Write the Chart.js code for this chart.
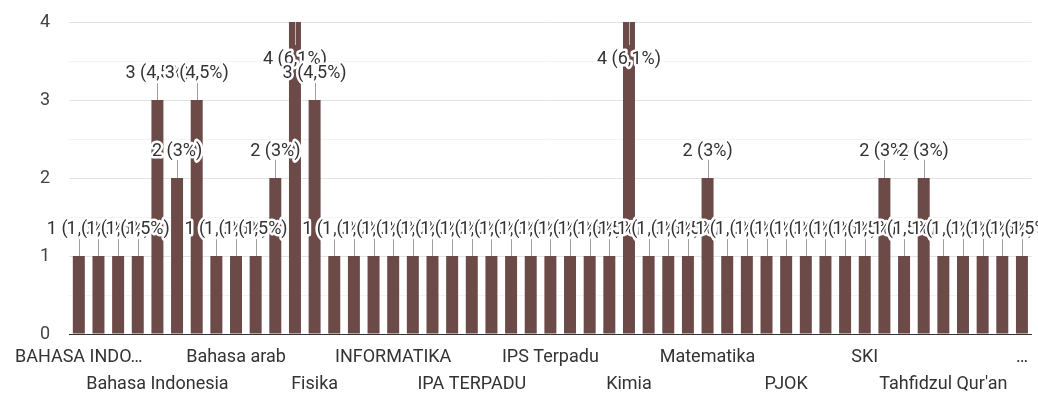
<!DOCTYPE html>
<html>
<head>
<meta charset="utf-8">
<script src="https://cdn.jsdelivr.net/npm/chart.js@4.4.0/dist/chart.umd.min.js"></script>
<style>
  body { margin: 0; background: #fff; }
  canvas { display: block; }
</style>
</head>
<body>
<canvas id="mapel" width="1038" height="394"></canvas>
<script>
// subjects, sorted the way the form summary sorts them
const categories = [
  'BAHASA INDONESIA', 'BAHASA INGGRIS', 'Bahasa Arab', 'Bahasa INGGRIS',
  'Bahasa Indonesia', 'Bahasa Inggris', 'Bahasa Jawa', 'Bahasa Sunda',
  'Bahasa arab', 'Bahasa inggris', 'Biologi', 'Ekonomi',
  'Fisika', 'Geografi', 'Hadits', 'IBADAH',
  'INFORMATIKA', 'IPA', 'IPA BIOLOGI', 'IPA FISIKA',
  'IPA TERPADU', 'IPA Terpadu', 'IPS', 'IPS TERPADU',
  'IPS Terpadu', 'Informatika', 'Ipa', 'Ips',
  'Kimia', 'MATEMATIKA', 'MTK', 'Mapel IPA',
  'Matematika', 'Matematika Wajib', 'Mtk', 'PAI',
  'PJOK', 'PKN', 'PPKN', 'Prakarya',
  'SKI', 'Sejarah', 'Sejarah Indonesia', 'Seni Budaya',
  "Tahfidzul Qur'an", 'Tahsin', 'Tematik', 'Tidak ada',
  'semua pelajaran'
];
const counts = [
  1, 1, 1, 1, 3, 2, 3, 1,
  1, 1, 2, 4, 3, 1, 1, 1,
  1, 1, 1, 1, 1, 1, 1, 1,
  1, 1, 1, 1, 4, 1, 1, 1,
  2, 1, 1, 1, 1, 1, 1, 1,
  1, 2, 1, 2, 1, 1, 1, 1,
  1
];
const yTicks = [0, 1, 2, 3, 4];

const total = counts.reduce((a, b) => a + b, 0);
const FONT = '18px Roboto';

function pctText(v) {
  const p = (v / total * 100).toFixed(1).replace('.', ',').replace(/,0$/, '');
  return v + ' (' + p + '%)';
}

// leader lines + "n (p%)" labels over each bar
const valueLabels = {
  id: 'valueLabels',
  afterDatasetsDraw(chart) {
    const ctx = chart.ctx;
    const area = chart.chartArea;
    const bars = chart.getDatasetMeta(0).data;
    const spots = bars.map((bar, i) => {
      const inside = bar.y - 40 < area.top;
      return {
        x: bar.x,
        top: bar.y,
        lineEnd: inside ? bar.y + 23 : bar.y - 18,
        textY: inside ? bar.y + 37 : bar.y - 27,
        inside,
        text: pctText(counts[i])
      };
    });
    ctx.save();
    ctx.lineWidth = 1;
    spots.forEach(s => {
      ctx.strokeStyle = s.inside ? '#b8b8b8' : '#9e9e9e';
      ctx.beginPath();
      ctx.moveTo(Math.round(s.x) + 0.5, s.top);
      ctx.lineTo(Math.round(s.x) + 0.5, s.lineEnd);
      ctx.stroke();
    });
    ctx.font = FONT;
    ctx.textAlign = 'center';
    ctx.textBaseline = 'middle';
    ctx.lineJoin = 'round';
    spots.forEach(s => {
      ctx.lineWidth = 5;
      ctx.strokeStyle = '#fff';
      ctx.strokeText(s.text, s.x, s.textY);
      ctx.fillStyle = '#333';
      ctx.fillText(s.text, s.x, s.textY);
    });
    ctx.restore();
  }
};

new Chart(document.getElementById('mapel'), {
  type: 'bar',
  data: {
    labels: categories,
    datasets: [{
      data: counts,
      backgroundColor: '#6b4a48',
      categoryPercentage: 1,
      barPercentage: 0.61
    }]
  },
  options: {
    responsive: false,
    animation: false,
    layout: { padding: { top: 22, right: 4, left: 0, bottom: 0 } },
    plugins: { legend: { display: false }, tooltip: { enabled: false } },
    scales: {
      x: {
        // only the closing line on the right edge is visible
        grid: {
          drawTicks: false,
          color: c => c.index === categories.length ? '#ececec' : 'rgba(0,0,0,0)'
        },
        border: { color: '#333', width: 1 },
        afterFit(scale) { scale.height = 60; },
        ticks: {
          autoSkip: false,
          maxRotation: 0,
          minRotation: 0,
          padding: 10,
          color: '#333',
          font: { family: 'Roboto', size: 18, lineHeight: 1.5 },
          callback: function (value, i) {
            if (i % 4 !== 0) return '';
            const ctx = this.chart.ctx;
            ctx.save();
            ctx.font = FONT;
            const pitch = (this.chart.width - 73) / categories.length;
            const cx = 69 + (i + 0.5) * pitch;
            const room = Math.min(150, 2 * Math.min(cx, this.chart.width - cx) - 20);
            let text = categories[i];
            if (ctx.measureText(text).width > room) {
              let n = text.length;
              while (n > 0 && ctx.measureText(text.slice(0, n).trimEnd() + '…').width > room) n--;
              text = text.slice(0, n).trimEnd() + '…';
            }
            ctx.restore();
            return (i / 4) % 2 === 0 ? text : ['', text];
          }
        }
      },
      y: {
        min: 0,
        max: 4,
        afterFit(scale) {
          scale.width = 69;
          // keep the tick padding from pushing the plot down
          scale.paddingTop = 11;
          scale.paddingBottom = 11;
        },
        border: { display: false },
        grid: {
          drawTicks: false,
          color: c => yTicks.includes(c.tick.value) ? '#e3e3e3' : '#f3f3f3'
        },
        ticks: {
          stepSize: 0.5,
          padding: 19,
          color: '#444',
          font: { family: 'Roboto', size: 18 },
          callback: v => yTicks.includes(v) ? v : ''
        }
      }
    }
  },
  plugins: [valueLabels]
});
</script>
</body>
</html>
